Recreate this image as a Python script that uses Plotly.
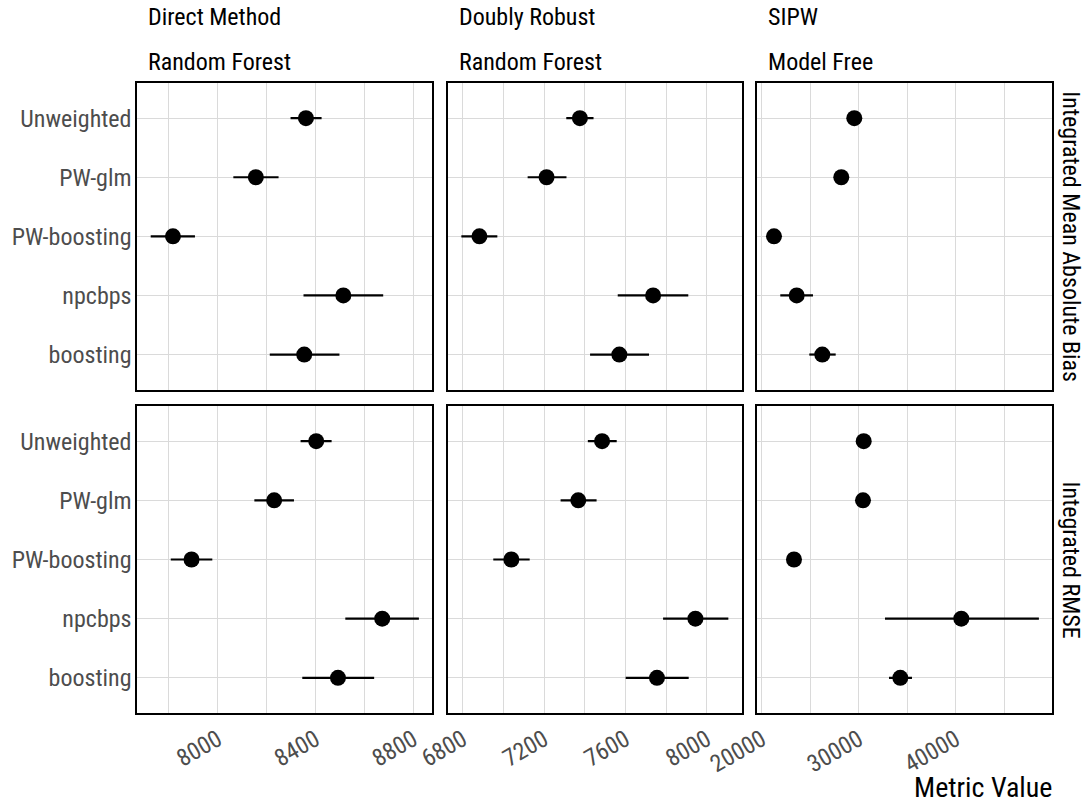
import plotly.graph_objects as go

categories = ["Unweighted", "PW-glm", "PW-boosting", "npcbps", "boosting"]
col_titles = [("Direct Method", "Random Forest"), ("Doubly Robust", "Random Forest"), ("SIPW", "Model Free")]
row_titles = ["Integrated Mean Absolute Bias", "Integrated RMSE"]

# Direct Method
dm_bias = [8361, 8156, 7817, 8514, 8354]
dm_bias_lo = [8298, 8064, 7726, 8351, 8213]
dm_bias_hi = [8425, 8249, 7907, 8677, 8498]
dm_rmse = [8403, 8231, 7893, 8673, 8492]
dm_rmse_lo = [8339, 8150, 7808, 8522, 8346]
dm_rmse_hi = [8466, 8312, 7978, 8823, 8640]

# Doubly Robust
dr_bias = [7376, 7212, 6882, 7736, 7570]
dr_bias_lo = [7309, 7119, 6793, 7562, 7426]
dr_bias_hi = [7443, 7310, 6970, 7909, 7716]
dr_rmse = [7485, 7368, 7039, 7944, 7755]
dr_rmse_lo = [7415, 7281, 6950, 7785, 7601]
dr_rmse_hi = [7557, 7458, 7129, 8106, 7911]

# SIPW
sipw_bias = [29546, 28206, 21268, 23608, 26247]
sipw_bias_lo = [29350, 28050, 20930, 21918, 24907]
sipw_bias_hi = [29740, 28360, 21600, 25289, 27629]
sipw_rmse = [30515, 30443, 23330, 40577, 34289]
sipw_rmse_lo = [30350, 30290, 23180, 32711, 33124]
sipw_rmse_hi = [30680, 30600, 23480, 48576, 35494]

major_ticks = [[8000, 8400, 8800], [6800, 7200, 7600, 8000], [20000, 30000, 40000]]
minor_ticks = [[7800, 8200, 8600], [7000, 7400, 7800], [25000, 35000, 45000]]

panels = [
    [(dm_bias, dm_bias_lo, dm_bias_hi), (dr_bias, dr_bias_lo, dr_bias_hi), (sipw_bias, sipw_bias_lo, sipw_bias_hi)],
    [(dm_rmse, dm_rmse_lo, dm_rmse_hi), (dr_rmse, dr_rmse_lo, dr_rmse_hi), (sipw_rmse, sipw_rmse_lo, sipw_rmse_hi)],
]

W, H = 1091, 804
xdom_px = [(137.3, 432.3), (448.0, 741.7), (757.3, 1052.3)]
ydom_px = [(82.7, 390.0), (405.7, 713.3)]

FONT = "Roboto Condensed"
GREY = "#4D4D4D"
GRID = "#DADADA"

fig = go.Figure()
layout = dict(
    width=W, height=H,
    margin=dict(l=0, r=0, t=0, b=0),
    paper_bgcolor="white", plot_bgcolor="white",
    showlegend=False,
    font=dict(family=FONT, color="black"),
)

# column ranges from data (5% expansion, shared across rows)
col_ranges = []
for c in range(3):
    vals = []
    for r in range(2):
        v, lo, hi = panels[r][c]
        vals += list(lo) + list(hi) + list(v)
    mn, mx = min(vals), max(vals)
    pad = 0.05 * (mx - mn)
    col_ranges.append([mn - pad, mx + pad])

k = 0
for r in range(2):
    for c in range(3):
        k += 1
        v, lo, hi = panels[r][c]
        xa = "x" if k == 1 else f"x{k}"
        ya = "y" if k == 1 else f"y{k}"
        fig.add_trace(go.Scatter(
            x=v, y=categories, xaxis=xa, yaxis=ya, mode="markers",
            marker=dict(color="black", size=16),
            error_x=dict(type="data", symmetric=False,
                         array=[h - m for h, m in zip(hi, v)],
                         arrayminus=[m - l for m, l in zip(v, lo)],
                         color="black", thickness=2.2, width=0),
            hoverinfo="x+y",
        ))
        x0, x1 = xdom_px[c]
        y0, y1 = ydom_px[r]
        xkey = "xaxis" if k == 1 else f"xaxis{k}"
        ykey = "yaxis" if k == 1 else f"yaxis{k}"
        layout[xkey] = dict(
            domain=[x0 / W, x1 / W], anchor=ya, range=col_ranges[c],
            tickmode="array", tickvals=major_ticks[c],
            ticktext=[str(t) for t in major_ticks[c]],
            showticklabels=(r == 1), tickangle=-30,
            tickfont=dict(family=FONT, size=24, color=GREY),
            ticks="", showgrid=True, gridcolor=GRID, gridwidth=1,
            minor=dict(tickmode="array", tickvals=minor_ticks[c], showgrid=True, gridcolor=GRID, gridwidth=1, ticks=""),
            showline=True, mirror=True, linecolor="black", linewidth=2,
            zeroline=False, ticklabelstandoff=1, automargin=False,
        )
        layout[ykey] = dict(
            domain=[1 - y1 / H, 1 - y0 / H], anchor=xa,
            type="category", categoryorder="array", categoryarray=categories,
            range=[4.6, -0.6],
            showticklabels=(c == 0),
            tickfont=dict(family=FONT, size=24, color=GREY),
            ticks="", showgrid=True, gridcolor=GRID, gridwidth=1,
            showline=True, mirror=True, linecolor="black", linewidth=2,
            zeroline=False, ticklabelstandoff=-1, automargin=False,
        )

annotations = []
for c, (t1, t2) in enumerate(col_titles):
    x0 = (xdom_px[c][0] + 9) / W
    annotations.append(dict(text=t1, x=x0, y=1 - 17 / H, xref="paper", yref="paper",
                            xanchor="left", yanchor="middle", showarrow=False,
                            font=dict(family=FONT, size=24, color="black")))
    annotations.append(dict(text=t2, x=x0, y=1 - 62 / H, xref="paper", yref="paper",
                            xanchor="left", yanchor="middle", showarrow=False,
                            font=dict(family=FONT, size=24, color="black")))
for r, t in enumerate(row_titles):
    yc = (ydom_px[r][0] + ydom_px[r][1]) / 2
    annotations.append(dict(text=t, x=1071 / W, y=1 - yc / H, xref="paper", yref="paper",
                            xanchor="center", yanchor="middle", showarrow=False, textangle=90,
                            font=dict(family=FONT, size=24, color="black")))
annotations.append(dict(text="Metric Value", x=1053.5 / W, y=1 - 787 / H, xref="paper", yref="paper",
                        xanchor="right", yanchor="middle", showarrow=False,
                        font=dict(family=FONT, size=28, color="black")))
layout["annotations"] = annotations

fig.update_layout(**layout)
fig.write_html("out.html", config={"displayModeBar": False},
               post_script="document.body.style.margin='0px';document.body.style.overflow='hidden';")
